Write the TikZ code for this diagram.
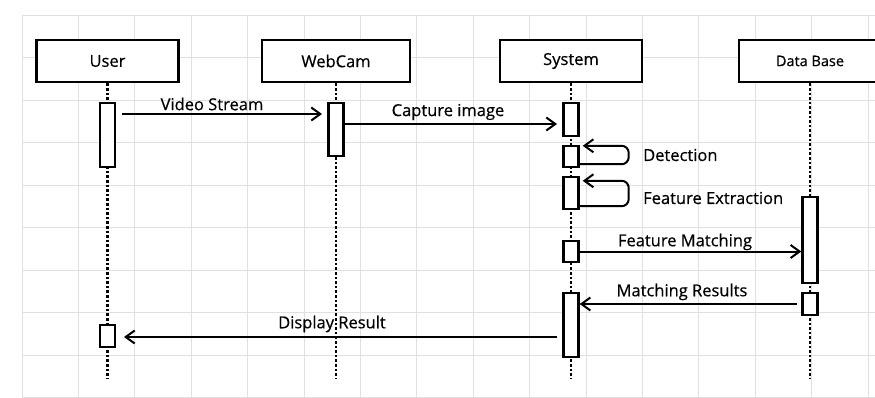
\documentclass[tikz,border=0pt]{standalone}
\usepackage{fontspec}
\setmainfont{Open Sans}
\newfontfamily\lblfont{Open Sans}[BoldFont={Open Sans},BoldFeatures={FakeBold=0.5}]
\usetikzlibrary{arrows.meta}
\tikzset{
  head/.style={draw, line width=2.8pt, fill=white, minimum width=142pt, minimum height=42pt, inner sep=0pt, font=\lblfont\bfseries\fontsize{16.5}{19}\selectfont},
  act/.style={draw, line width=2.4pt, fill=white, minimum width=15pt, inner sep=0pt},
  life/.style={line width=2.8pt, dash pattern=on 2.6pt off 2pt},
  msg/.style={line width=2pt, -{Straight Barb[length=9pt,width=13pt,line width=2pt]}},
  lbl/.style={inner sep=0pt, font=\lblfont\bfseries\fontsize{16.5}{19}\selectfont},
  gridl/.style={black!12, line width=0.8pt}
}
\begin{document}
\begin{tikzpicture}[x=1pt,y=-1pt]
\clip (0,0) rectangle (875,398);
\fill[white] (0,0) rectangle (875,398);
% grid
\foreach \i in {0,...,15} \draw[gridl] (22+56.4*\i,15) -- (22+56.4*\i,398);
\foreach \j in {0,...,9} \draw[gridl] (22,15+42.5*\j) -- (875,15+42.5*\j);
% heads
\node[head] (user) at (107.5,61) {User};
\node[head, minimum width=148pt] (cam) at (336,61) {WebCam};
\node[head] (sys) at (571,61) {System};
\node[head, font=\lblfont\bfseries\fontsize{14.5}{17}\selectfont] (db) at (810,61) {Data Base};
% lifeline ends
\coordinate (userend) at (107.5,378);
\coordinate (camend) at (336,378);
\coordinate (sysend) at (571,378);
\coordinate (dbend) at (810,378);
\draw[life] (user.south) -- (userend);
\draw[life] (cam.south) -- (camend);
\draw[life] (sys.south) -- (sysend);
\draw[life] (db.south) -- (dbend);
% activations
\node[act, minimum height=64pt] (u1) at (107.5,135) {};
\node[act, minimum height=22pt] (u2) at (107.5,336) {};
\node[act, minimum height=53pt] (c1) at (336,129.5) {};
\node[act, minimum height=33pt] (s1) at (571,119.5) {};
\node[act, minimum height=21pt] (s2) at (571,156.5) {};
\node[act, minimum height=32pt] (s3) at (571,193) {};
\node[act, minimum height=21pt] (s4) at (571,251.5) {};
\node[act, minimum height=64pt] (s5) at (571,325) {};
\node[act, minimum height=86pt] (d1) at (810,240) {};
\node[act, minimum height=22pt] (d2) at (810,304) {};
% message end points
\coordinate (m1a) at (122,114);  \coordinate (m1b) at (322,114);
\coordinate (m2b) at (557,124);
\coordinate (m6a) at (797,304);
\coordinate (m7a) at (557,337);  \coordinate (m7b) at (124,337);
% messages
\draw[msg] (m1a) -- (m1b);
\draw[msg] (c1.east |- m2b) -- (m2b);
\draw[msg, rounded corners=7pt] ([yshift=4pt]s2.south east) -- ++(49,0) |- ([xshift=3pt,yshift=-1pt]s2.north east);
\draw[msg, rounded corners=7pt] ([yshift=4pt]s3.south east) -- ++(49,0) |- ([xshift=3pt,yshift=-5pt]s3.north east);
\draw[msg] (s4.east) -- (d1.west |- s4.east);
\draw[msg] (m6a) -- (s5.east |- m6a);
\draw[msg] (m7a) -- (m7b);
% labels
\node[lbl] (t1) at (212,104) {Video Stream};
\node[lbl] (t2) at (448,112) {Capture image};
\node[lbl, anchor=west] (t3) at (643,155) {Detection};
\node[lbl, anchor=west] (t4) at (643,198) {Feature Extraction};
\node[lbl] (t5) at (685,242) {Feature Matching};
\node[lbl] (t6) at (682,292) {Matching Results};
\node[lbl] (t7) at (332,324) {Display Result};
\end{tikzpicture}
\end{document}
